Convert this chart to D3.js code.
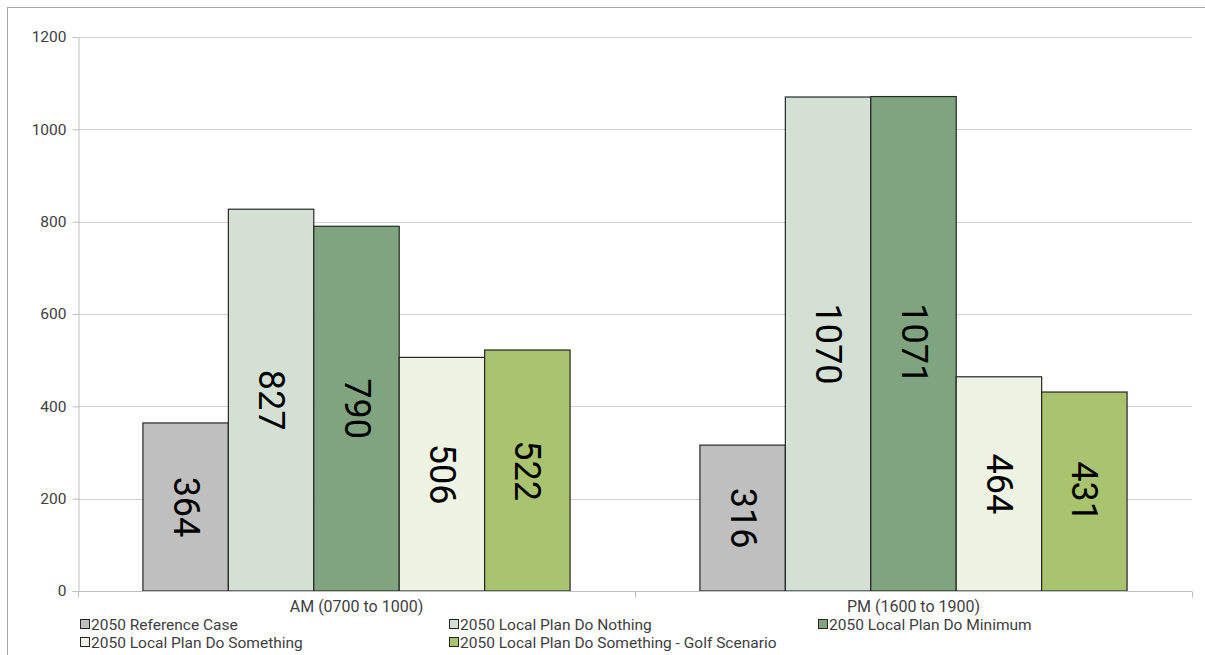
<!DOCTYPE html>
<html><head><meta charset="utf-8">
<script src="https://cdn.jsdelivr.net/npm/d3@7"></script>
<style>body{margin:0;background:#fff}svg{display:block}text{font-family:Roboto,"Noto Sans",sans-serif}</style>
</head><body>
<svg id="c" width="1205" height="655"></svg>
<script>
const categories = ["AM (0700 to 1000)", "PM (1600 to 1900)"];
const seriesNames = ["2050 Reference Case","2050 Local Plan Do Nothing","2050 Local Plan Do Minimum","2050 Local Plan Do Something","2050 Local Plan Do Something - Golf Scenario"];
const referenceCase = [364, 316];
const doNothing = [827, 1070];
const doMinimum = [790, 1071];
const doSomething = [506, 464];
const golfScenario = [522, 431];
const yTicks = [0, 200, 400, 600, 800, 1000, 1200];
const colors = ["#bfbfbf","#d5e0d5","#7fa47f","#eef3e4","#a9c36f"];

const seriesValues = [referenceCase, doNothing, doMinimum, doSomething, golfScenario];
const svg = d3.select("#c");
const L = 78, R = 1192, T = 37, B = 591;

// frame
svg.append("line").attr("x1",7).attr("x2",1205).attr("y1",7.5).attr("y2",7.5).attr("stroke","#a6a6a6");
svg.append("line").attr("x1",7.5).attr("x2",7.5).attr("y1",7).attr("y2",655).attr("stroke","#a6a6a6");

const y = d3.scaleLinear().domain([0,1200]).range([B,T]);
const x0 = d3.scaleBand().domain(categories).range([L,R]).padding(0);
const x1 = d3.scaleBand().domain(seriesNames).range([0,x0.bandwidth()]).paddingInner(0).paddingOuter(0.76);

// gridlines
svg.append("g").selectAll("line").data(yTicks.filter(d=>d>0)).join("line")
  .attr("x1",L).attr("x2",R).attr("y1",d=>Math.round(y(d))+0.5).attr("y2",d=>Math.round(y(d))+0.5)
  .attr("stroke","#d0d0d0").attr("stroke-width",1.2);

// y axis
const yAxis = svg.append("g").attr("transform",`translate(${L+0.5},0)`)
  .call(d3.axisLeft(y).tickValues(yTicks).tickFormat(d3.format("d")).tickSize(6).tickPadding(6));
yAxis.select(".domain").attr("stroke","#bfbfbf");
yAxis.selectAll(".tick line").attr("stroke","#bfbfbf");
yAxis.selectAll(".tick text").attr("font-size",15.5).attr("fill","#404040");

// bars
const g = svg.append("g");
categories.forEach((c,ci)=>{
  seriesNames.forEach((s,si)=>{
    const v = seriesValues[si][ci];
    const bx = x0(c)+x1(s), bw = x1.bandwidth();
    g.append("rect").attr("x",bx).attr("y",y(v)).attr("width",bw).attr("height",B-y(v))
      .attr("fill",colors[si]).attr("stroke","#262626").attr("stroke-width",1.2);
    const cx = bx+bw/2, cy = (y(v)+B)/2;
    g.append("text").attr("transform",`translate(${cx},${cy}) rotate(90)`)
      .attr("text-anchor","middle").attr("dominant-baseline","central")
      .attr("font-size",36).attr("fill","#000").text(v);
  });
});

// x axis
const xAxis = svg.append("g").attr("transform",`translate(0,${B+0.5})`);
xAxis.append("line").attr("x1",L).attr("x2",R).attr("stroke","#bfbfbf");
[L, (L+R)/2, R].forEach(t=>xAxis.append("line").attr("x1",Math.round(t)+0.5).attr("x2",Math.round(t)+0.5).attr("y1",0).attr("y2",6).attr("stroke","#bfbfbf"));
categories.forEach(c=>{
  svg.append("text").attr("x",x0(c)+x0.bandwidth()/2).attr("y",612).attr("text-anchor","middle")
    .attr("font-size",16).attr("fill","#404040").text(c);
});

// legend
const legendPos = [[80,625],[449,625],[818,625],[80,643],[449,643]];
seriesNames.forEach((s,i)=>{
  const [lx,ly] = legendPos[i];
  svg.append("rect").attr("x",lx+0.5).attr("y",ly-5.5).attr("width",9).attr("height",9)
    .attr("fill",colors[i]).attr("stroke","#262626").attr("stroke-width",1);
  svg.append("text").attr("x",lx+11).attr("y",ly).attr("dominant-baseline","central")
    .attr("font-size",15.5).attr("fill","#404040").text(s);
});
</script>
</body></html>
